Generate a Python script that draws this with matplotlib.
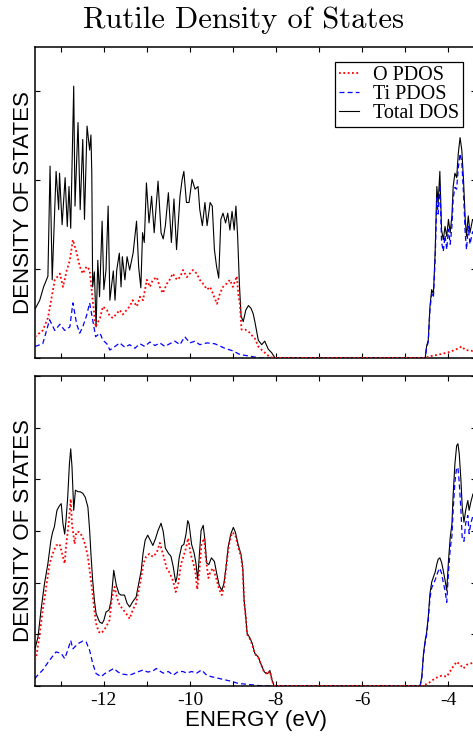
import matplotlib
matplotlib.use('Agg')
import matplotlib.pyplot as plt
from matplotlib.ticker import MultipleLocator, FuncFormatter

plt.rcParams['font.family'] = ['Liberation Serif', 'DejaVu Serif']

# ---- top panel (raw DOS) ----
top_total_e = [-13.60, -13.49, -13.40, -13.30, -13.25, -13.20, -13.11, -13.05, -13.03, -12.97,
               -12.90, -12.85, -12.81, -12.77, -12.70, -12.67, -12.60, -12.55, -12.49, -12.45,
               -12.39, -12.33, -12.30, -12.28, -12.26, -12.22, -12.18, -12.14, -12.10, -12.04,
               -12.00, -11.95, -11.90, -11.86, -11.78, -11.74, -11.70, -11.64, -11.60, -11.57,
               -11.51, -11.46, -11.40, -11.32, -11.24, -11.19, -11.14, -11.10, -11.06, -11.01,
               -10.95, -10.89, -10.83, -10.74, -10.67, -10.62, -10.57, -10.50, -10.43, -10.37,
               -10.31, -10.23, -10.18, -10.14, -10.08, -10.02, -9.95, -9.88, -9.81, -9.77,
               -9.71, -9.65, -9.60, -9.53, -9.48, -9.43, -9.38, -9.33, -9.28, -9.23,
               -9.17, -9.12, -9.07, -9.02, -8.97, -8.93, -8.89, -8.85, -8.81, -8.76,
               -8.70, -8.64, -8.58, -8.53, -8.49, -8.41, -8.33, -8.26, -8.18, -8.10, -8.02]
top_total = [0.55, 0.65, 0.80, 0.92, 2.16, 0.88, 2.10, 1.67, 2.08, 1.50,
             2.03, 1.48, 1.93, 1.46, 3.06, 1.71, 2.65, 1.67, 2.46, 1.56,
             2.61, 2.34, 2.51, 2.08, 0.80, 0.97, 0.35, 1.10, 0.69, 1.54,
             0.77, 0.99, 1.71, 0.65, 0.98, 0.65, 0.99, 1.18, 0.80, 1.14,
             0.88, 1.14, 0.99, 1.18, 1.54, 1.02, 0.79, 1.41, 1.30, 1.97,
             1.52, 1.82, 1.41, 1.99, 1.41, 1.34, 1.49, 1.86, 1.30, 1.79,
             1.22, 1.82, 2.01, 2.10, 1.75, 1.75, 2.01, 1.90, 1.93, 1.67,
             1.49, 1.75, 1.49, 1.75, 1.71, 1.22, 1.03, 0.90, 1.56, 1.63,
             1.52, 1.63, 1.44, 1.65, 1.44, 1.71, 1.37, 0.84, 0.47, 0.41,
             0.54, 0.59, 0.56, 0.50, 0.41, 0.20, 0.15, 0.19, 0.10, 0.06, 0.0]
top_cb_e = [-4.55, -4.53, -4.50, -4.46, -4.42, -4.38, -4.34, -4.30, -4.26, -4.23,
            -4.19, -4.15, -4.11, -4.07, -4.03, -3.99, -3.95, -3.91, -3.88, -3.84,
            -3.80, -3.76, -3.72, -3.68, -3.64, -3.60, -3.57, -3.53, -3.49, -3.43, -3.35]
top_cb_total = [0.0, 0.0, 0.13, 0.20, 0.58, 0.77, 0.72, 1.18, 1.93, 1.74,
                2.10, 1.44, 1.33, 1.48, 1.37, 1.56, 1.41, 1.60, 1.93, 2.08,
                2.03, 2.31, 2.48, 2.34, 2.00, 1.56, 1.37, 1.60, 1.41, 1.56, 1.50]
top_cb_ti = [0.0, 0.0, 0.11, 0.18, 0.55, 0.72, 0.68, 1.10, 1.80, 1.62,
             1.95, 1.30, 1.20, 1.38, 1.22, 1.45, 1.28, 1.48, 1.80, 1.92,
             1.90, 2.15, 2.30, 2.20, 1.85, 1.40, 1.22, 1.48, 1.28, 1.42, 1.38]

top_ti_e = [-13.60, -13.42, -13.26, -13.14, -13.02, -12.91, -12.79, -12.72, -12.63, -12.56,
            -12.49, -12.40, -12.33, -12.26, -12.19, -12.09, -12.02, -11.93, -11.86, -11.74,
            -11.63, -11.51, -11.40, -11.28, -11.16, -11.05, -10.93, -10.81, -10.70, -10.58,
            -10.47, -10.35, -10.23, -10.12, -10.00, -9.88, -9.77, -9.60, -9.42, -9.19,
            -9.00, -8.84, -8.60, -8.37, -8.02]
top_ti = [0.13, 0.16, 0.43, 0.31, 0.38, 0.31, 0.35, 0.62, 0.38, 0.28,
          0.35, 0.48, 0.62, 0.43, 0.24, 0.28, 0.20, 0.16, 0.09, 0.13,
          0.17, 0.12, 0.15, 0.11, 0.16, 0.13, 0.18, 0.14, 0.17, 0.13,
          0.16, 0.19, 0.15, 0.24, 0.17, 0.19, 0.15, 0.17, 0.16, 0.11,
          0.08, 0.04, 0.02, 0.0, 0.0]

top_o_e = [-13.60, -13.42, -13.30, -13.21, -13.14, -13.02, -12.95, -12.86, -12.79, -12.72,
           -12.63, -12.56, -12.49, -12.40, -12.33, -12.26, -12.19, -12.09, -12.02, -11.93,
           -11.86, -11.79, -11.70, -11.63, -11.56, -11.47, -11.40, -11.33, -11.23, -11.16,
           -11.09, -11.00, -10.93, -10.86, -10.77, -10.70, -10.63, -10.53, -10.47, -10.40,
           -10.30, -10.23, -10.16, -10.07, -10.00, -9.93, -9.84, -9.77, -9.70, -9.60,
           -9.53, -9.47, -9.37, -9.30, -9.23, -9.14, -9.07, -9.00, -8.91, -8.87,
           -8.84, -8.80, -8.72, -8.64, -8.57, -8.49, -8.41, -8.33, -8.26, -8.14, -8.02]
top_o = [0.24, 0.31, 0.45, 0.69, 0.88, 0.95, 0.80, 0.99, 1.10, 1.33,
         1.18, 1.03, 0.95, 1.03, 0.99, 0.65, 0.35, 0.45, 0.58, 0.54,
         0.47, 0.45, 0.50, 0.54, 0.49, 0.54, 0.58, 0.65, 0.58, 0.69,
         0.65, 0.88, 0.80, 0.88, 0.91, 0.80, 0.73, 0.84, 0.88, 0.95,
         0.88, 0.91, 0.99, 0.91, 0.95, 0.99, 0.95, 0.88, 0.84, 0.77,
         0.80, 0.73, 0.61, 0.73, 0.80, 0.84, 0.88, 0.80, 0.92, 0.70,
         0.62, 0.32, 0.32, 0.30, 0.26, 0.22, 0.13, 0.09, 0.06, 0.01, 0.0]
top_cb_o_e = [-4.55, -4.42, -4.20, -3.95, -3.80, -3.68, -3.60, -3.43, -3.35]
top_cb_o = [0.0, 0.02, 0.04, 0.07, 0.10, 0.13, 0.09, 0.08, 0.09]

# ---- bottom panel (smoothed DOS) ----
bot_total_e = [-13.60, -13.53, -13.46, -13.38, -13.30, -13.23, -13.19, -13.15, -13.09, -13.03,
               -12.99, -12.95, -12.91, -12.88, -12.84, -12.80, -12.77, -12.74, -12.70, -12.66,
               -12.60, -12.55, -12.49, -12.43, -12.37, -12.33, -12.30, -12.26, -12.22, -12.18,
               -12.10, -12.04, -12.00, -11.95, -11.88, -11.83, -11.77, -11.71, -11.65, -11.60,
               -11.52, -11.46, -11.40, -11.33, -11.25, -11.19, -11.13, -11.09, -11.04, -10.98,
               -10.92, -10.86, -10.80, -10.74, -10.67, -10.62, -10.57, -10.50, -10.44, -10.39,
               -10.33, -10.30, -10.25, -10.19, -10.14, -10.09, -10.05, -10.02, -9.96, -9.90,
               -9.86, -9.82, -9.78, -9.74, -9.69, -9.65, -9.61, -9.56, -9.50, -9.43,
               -9.38, -9.32, -9.26, -9.21, -9.16, -9.11, -9.05, -8.99, -8.94, -8.88,
               -8.81, -8.77, -8.74, -8.70, -8.67, -8.60, -8.55, -8.49, -8.41, -8.35,
               -8.27, -8.19, -8.14, -8.09, -8.04]
bot_total = [0.72, 0.95, 1.47, 1.98, 2.37, 2.82, 2.98, 3.08, 3.40, 3.49,
             3.53, 3.14, 2.94, 3.20, 3.65, 4.30, 4.59, 4.24, 3.40, 3.79,
             3.76, 3.76, 3.73, 3.65, 3.46, 3.01, 2.56, 2.05, 1.66, 1.40,
             1.24, 1.21, 1.27, 1.43, 1.47, 1.66, 2.24, 1.95, 1.79, 1.76,
             1.76, 1.60, 1.53, 1.63, 1.72, 1.98, 2.24, 2.56, 2.82, 2.92,
             2.82, 2.72, 2.85, 3.01, 3.15, 2.99, 2.67, 2.57, 2.51, 2.32,
             2.01, 2.11, 2.48, 2.71, 2.74, 2.94, 3.20, 3.14, 2.74, 2.57,
             2.38, 2.06, 2.54, 3.01, 3.11, 2.82, 2.38, 2.35, 2.48, 2.41,
             2.19, 1.95, 1.85, 1.98, 2.30, 2.69, 2.94, 3.07, 2.97, 2.74,
             2.54, 2.28, 1.66, 1.34, 1.02, 0.92, 0.82, 0.63, 0.56, 0.43,
             0.27, 0.24, 0.30, 0.11, 0.0]
bot_cb_e = [-4.65, -4.61, -4.57, -4.53, -4.50, -4.46, -4.42, -4.38, -4.34, -4.30,
            -4.26, -4.23, -4.19, -4.15, -4.11, -4.07, -4.03, -3.99, -3.95, -3.91,
            -3.88, -3.84, -3.80, -3.77, -3.74, -3.70, -3.67, -3.63, -3.59, -3.54,
            -3.51, -3.47, -3.42, -3.35]
bot_cb_total = [0.0, 0.18, 0.63, 0.89, 1.02, 1.33, 1.79, 2.01, 2.11, 2.20,
                2.36, 2.45, 2.48, 2.39, 2.23, 2.05, 1.85, 2.42, 2.87, 3.13,
                3.72, 4.30, 4.65, 4.69, 4.50, 3.98, 3.46, 3.17, 3.40, 3.59,
                3.40, 3.56, 3.72, 3.60]
bot_cb_ti = [0.0, 0.15, 0.60, 0.85, 0.98, 1.28, 1.70, 1.90, 1.98, 2.05,
             2.15, 2.22, 2.28, 2.18, 2.00, 1.85, 1.62, 2.20, 2.65, 2.90,
             3.42, 3.95, 4.23, 4.22, 3.95, 3.40, 2.85, 2.80, 3.15, 3.30,
             2.95, 3.15, 3.30, 3.20]

bot_o_e = [-13.60, -13.57, -13.50, -13.42, -13.34, -13.26, -13.19, -13.11, -13.03, -12.99,
           -12.95, -12.91, -12.88, -12.81, -12.77, -12.74, -12.68, -12.64, -12.57, -12.49,
           -12.43, -12.37, -12.32, -12.27, -12.23, -12.18, -12.12, -12.06, -12.00, -11.95,
           -11.87, -11.81, -11.75, -11.70, -11.63, -11.56, -11.48, -11.40, -11.33, -11.25,
           -11.19, -11.13, -11.08, -11.02, -10.94, -10.86, -10.77, -10.70, -10.62, -10.54,
           -10.47, -10.39, -10.33, -10.27, -10.21, -10.16, -10.09, -10.04, -9.98, -9.92,
           -9.87, -9.83, -9.78, -9.73, -9.67, -9.63, -9.57, -9.52, -9.46, -9.38,
           -9.32, -9.26, -9.21, -9.15, -9.09, -9.02, -8.95, -8.88, -8.81, -8.77,
           -8.74, -8.70, -8.67, -8.60, -8.55, -8.49, -8.41, -8.35, -8.27, -8.19,
           -8.14, -8.09, -8.04]
bot_o = [0.50, 0.57, 0.95, 1.47, 1.92, 2.37, 2.56, 2.72, 2.75, 2.63,
         2.50, 2.37, 2.69, 3.20, 3.62, 3.14, 2.75, 2.98, 2.98, 2.88,
         2.72, 2.50, 2.18, 1.85, 1.53, 1.21, 1.05, 1.02, 1.08, 1.14,
         1.27, 1.72, 1.92, 1.72, 1.56, 1.49, 1.40, 1.30, 1.47, 1.60,
         1.85, 2.11, 2.37, 2.50, 2.56, 2.50, 2.58, 2.77, 2.54, 2.28,
         2.19, 2.03, 1.82, 1.98, 2.35, 2.48, 2.67, 2.86, 2.54, 2.38,
         2.19, 1.87, 2.22, 2.74, 2.86, 2.48, 2.09, 2.22, 2.28, 2.06,
         1.87, 1.76, 1.91, 2.35, 2.74, 2.97, 2.94, 2.69, 2.50, 2.24,
         1.63, 1.31, 1.00, 0.90, 0.80, 0.62, 0.55, 0.42, 0.26, 0.23,
         0.29, 0.10, 0.0]
bot_cb_o_e = [-4.65, -4.61, -4.46, -4.30, -4.15, -4.03, -3.91, -3.80, -3.72, -3.64,
              -3.57, -3.49, -3.42, -3.35]
bot_cb_o = [0.0, 0.0, 0.05, 0.15, 0.20, 0.18, 0.34, 0.47, 0.41, 0.34,
            0.41, 0.43, 0.45, 0.45]

bot_ti_e = [-13.60, -13.57, -13.42, -13.26, -13.11, -12.99, -12.91, -12.84, -12.77, -12.72,
            -12.60, -12.49, -12.41, -12.33, -12.26, -12.18, -12.06, -11.98, -11.91, -11.77,
            -11.67, -11.56, -11.40, -11.25, -11.09, -10.98, -10.86, -10.78, -10.74, -10.62,
            -10.50, -10.39, -10.27, -10.16, -10.08, -9.96, -9.84, -9.73, -9.61, -9.50,
            -9.34, -9.19, -9.03, -8.88, -8.64, -8.41, -8.18, -8.02]
bot_ti = [0.14, 0.18, 0.31, 0.50, 0.66, 0.63, 0.53, 0.69, 0.88, 0.72,
          0.82, 0.87, 0.85, 0.69, 0.44, 0.24, 0.18, 0.24, 0.27, 0.34,
          0.27, 0.23, 0.21, 0.26, 0.31, 0.27, 0.29, 0.34, 0.31, 0.25,
          0.28, 0.21, 0.28, 0.28, 0.25, 0.28, 0.25, 0.31, 0.21, 0.18,
          0.15, 0.12, 0.09, 0.05, 0.03, 0.01, 0.0, 0.0]


def even_label(v, pos):
    n = int(round(v))
    if n % 2 != 0:
        return ''
    return '%d' % n


def draw_panel(ax, tot_e, tot, ti_e, ti, o_e, o, ymax, show_x):
    l_tot, = ax.plot(tot_e, tot, color='black', lw=0.8, label='Total DOS', zorder=2)
    l_ti, = ax.plot(ti_e, ti, color='#0000ff', lw=0.9, ls=(0, (4, 2.5)), label='Ti PDOS', zorder=2.2)
    l_o, = ax.plot(o_e, o, color='#ff0000', lw=1.3, ls=(0, (1, 1.4)), label='O PDOS', zorder=3)
    ax.set_xlim(-13.6, -3.35)
    ax.set_ylim(0, ymax)
    ax.xaxis.set_major_locator(MultipleLocator(1))
    ax.yaxis.set_major_locator(MultipleLocator(1))
    ax.xaxis.set_major_formatter(FuncFormatter(even_label))
    ax.tick_params(direction='in', length=3.6, width=0.8, top=True, right=True,
                   labelleft=False, labelsize=14, pad=4)
    ax.tick_params(axis='x', labelbottom=show_x)
    for s in ax.spines.values():
        s.set_linewidth(1.1)
    ax.set_ylabel('DENSITY OF STATES', fontsize=16, family='Liberation Sans', labelpad=1)
    return l_o, l_ti, l_tot


fig = plt.figure(figsize=(4.73, 7.36), dpi=100)
ax1 = fig.add_axes([35 / 473, 378 / 736, 441 / 473, 311 / 736])
ax2 = fig.add_axes([35 / 473, 50 / 736, 441 / 473, 310 / 736])

handles = draw_panel(ax1, top_total_e + top_cb_e, top_total + top_cb_total,
                     top_ti_e + top_cb_e, top_ti + top_cb_ti,
                     top_o_e + top_cb_o_e, top_o + top_cb_o, 3.5, False)
draw_panel(ax2, bot_total_e + bot_cb_e, bot_total + bot_cb_total,
           bot_ti_e + bot_cb_e, bot_ti + bot_cb_ti,
           bot_o_e + bot_cb_o_e, bot_o + bot_cb_o, 6, True)

ax2.set_xlabel('ENERGY (eV)', fontsize=16, family='Liberation Sans', labelpad=1)

leg = ax1.legend(handles, [h.get_label() for h in handles], loc='upper right',
                 bbox_to_anchor=(0.9705, 0.9518), borderaxespad=0, fontsize=14.5,
                 frameon=True, fancybox=False, framealpha=1, edgecolor='black',
                 handlelength=1.0, handletextpad=0.7, labelspacing=0.0, borderpad=0.2)
leg.get_frame().set_linewidth(0.9)

fig.text(243 / 473, 708 / 736, 'Rutile Density of States', family='cmr10', fontsize=22,
         ha='center', va='baseline')

plt.savefig('out.png', dpi=100)
